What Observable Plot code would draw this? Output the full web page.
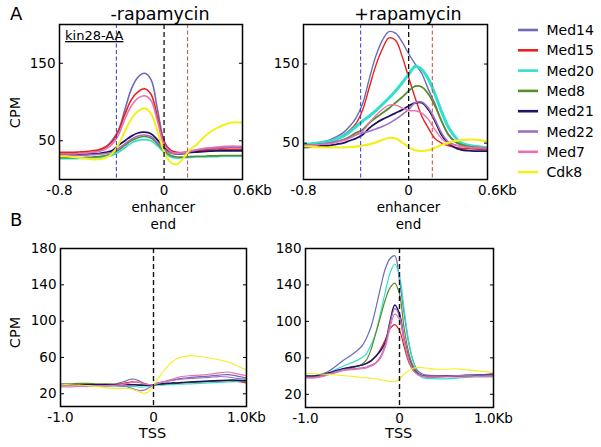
<!DOCTYPE html>
<html><head><meta charset="utf-8">
<script src="https://cdn.jsdelivr.net/npm/d3@7"></script>
<script src="https://cdn.jsdelivr.net/npm/@observablehq/plot@0.6"></script>
<style>
body{margin:0;background:#fff;}
#fig{position:relative;width:601px;height:447px;overflow:hidden;font-family:"DejaVu Sans";background:#fff;}
#fig > div, #fig > svg{position:absolute;}
</style></head><body><div id="fig"></div>
<script>
// ---------- data ----------
const seriesNames = ["Med14","Med15","Med20","Med8","Med21","Med22","Med7","Cdk8"];
const seriesColors = ["#6b6bb8","#e8211d","#30dfcd","#5b8b2c","#1b1563","#a26fbf","#e872b0","#f3ef1f"];

const xA = [-0.8,-0.75,-0.7,-0.65,-0.6,-0.55,-0.5,-0.45,-0.4,-0.35,-0.3,-0.25,-0.2,-0.15,-0.1,-0.05,0,0.05,0.1,0.15,0.2,0.25,0.3,0.35,0.4,0.45,0.5,0.55,0.6];
const xB = [-1,-0.9,-0.8,-0.7,-0.6,-0.5,-0.4,-0.35,-0.3,-0.25,-0.2,-0.15,-0.1,-0.05,0,0.05,0.1,0.15,0.2,0.25,0.3,0.4,0.5,0.6,0.7,0.8,0.9,1];

const xTicksA = [-0.8, 0, 0.6];
const xTickLabelsA = ["-0.8", "0", "0.6Kb"];
const xTicksB = [-1, 0, 1];
const xTickLabelsB = ["-1.0", "0", "1.0Kb"];
const yTicksA = [50, 150];
const yTicksB = [20, 60, 100, 140, 180];
const enhancerMarks = [-0.365, 0, 0.18];
const tssMarks = [0];

// enhancer end, -rapamycin (rows in seriesNames order)
const enhMinus = [
  [33,33,33,33.5,34,35,37,41,50,63,90,117,132,137,129,90,50,37,33,34,36,37,38,39,40,40.5,41,41,41],
  [35,35,35,35.5,36,37,38.5,42,48,62,84,103,113,117,110,80,48,38,35,35,36,37,37.5,38,38,38.5,38.5,38.5,38.5],
  [27,27,27,27,27.5,28,28.5,29.5,31,35,41,47,50.5,51.5,50,43,35,29,27.5,28,28.5,29,29,29.5,29.5,30,30,30,30],
  [28,28,28,28,28.5,29,29.5,31,33,37.5,44,50,54,55.5,53.5,46,37,31,29,29,29.5,30,30,30.5,30.5,31,31,31,31],
  [32,32,32,32,32.5,33,33.5,35,37,44,50,56,60,61,59,51,41,35,33,33.5,35,35.5,36,36.5,37,37,37,37,37],
  [31,31,31,31,31.5,32,32.5,33.5,35,40,46,52,56,57.5,55.5,48,39,34,33,34,36,38,39.5,40.5,41,41.5,42,42,42],
  [33,33,33,33.5,34,35,36,39,45,57,78,95,105,108,102,75,45,36,34,35,37,38.5,40,41,42,42.5,43,43,43],
  [30,30,29,28,27,26,26,28,33,45,62,78,88,92,85,62,36,22,20,28,39,45,54,61,66,70,73,74,73]
];
// enhancer end, +rapamycin
const enhPlus = [
  [47,48,50,52,54,58,63,71,82,100,131,160,180,191,189,178,163,150,138,118,100,78,62,53,48,46,44,43,43],
  [48,49,50,51,52,55,60,66,75,92,120,148,169,183,180,160,133,107,84,69,56,50,47,45,43.5,43,42.5,42,41.5],
  [48,49,50,51,52,55,58.5,64,71,78,84,91,99,107,116,126,137,147,143,131,112,90,71,58.5,50,47.5,46,45,44],
  [47,47.5,48,49,50,52,54,58,63,67,75.5,82,88,94,101,108,116,122,121,112,97,78,61,52,48,46,45,44,44],
  [44.5,45,46,46.5,47,48.5,50,53,56,60.5,69,75,80,84,88,92,97,101,101,92.5,78,60.5,50,44.5,41.5,40.5,40,40,40],
  [47,47.5,48,49,50,52,54,57,60.5,63,65,68,71,75,80,86,92.5,101,102,94.5,80,63,52,48,46,45,44,43.5,43],
  [46,47,48,48.5,49,51,53,56,60.5,65,75.5,85,92.5,98,98,94.5,91,91,88,80,67,56,50,47.5,46,45,44.5,44,44],
  [46,45.5,45,44.5,44.5,44.5,44.5,45,45.5,47,48.5,51,54,56.5,56,51,45,41,40,41,44,47.5,50.5,52.5,54,54.5,54.5,53.5,52]
];
// TSS, -rapamycin
const tssMinus = [
  [30,30,30,30,30,30,31,32.5,34,36,36,34,31.5,29.5,30,32,33,34,35,36,37,38,39,39.5,40.5,41,39.5,37.5],
  [29.5,29.5,29.5,29.5,29.5,30,30.5,31,32,33,33,32.5,31,30,30,30.5,30.5,31,31,31.5,32,32.5,33,33.5,34,34.5,33.5,32],
  [29,29,29,29,28.5,28.5,28.5,28,28,28,28,27.5,27.5,28,29,29.5,29.5,30,30,30.5,30.5,31,31.5,32,32.5,33,33.5,34],
  [31,31,31.5,31.5,31,31,30.5,30.5,30.5,30,30,30,29.5,29.5,30,30.5,31,31,31.5,32,32,33,33.5,34,34.5,34.5,34.5,34],
  [30,30,30,30,30,30,30,30,30,30,30,29.5,29.5,29.5,30,30.5,31,31.5,32,32,32.5,33,33.5,34,34.5,35,35,34.5],
  [29,29,29,29,29,29,29,28.5,28,26.5,25,23.5,24,26.5,30,32,33,34,35,35.5,36,37,37.5,38,39,38.5,37,36],
  [27.5,27.5,28,28,28.5,29,29.5,30,31,32,33,32.5,31,30,30,31.5,33,34.5,36,37.5,39,40,40.5,41.5,43,44,42,40],
  [30,30,29.5,29,28,26.5,26,26,26,25.5,24,22,20.5,22.5,29,37,44,50,55,58.5,60.5,62,61,59.5,57.5,55,51,46]
];
// TSS, +rapamycin
const tssPlus = [
  [40,40.5,43,49,57,64,73,82,95,115,138,158,169,172,145,108,75,55,45,42,41,40.5,40.5,40.5,41,41,41.5,42],
  [39,39,41,44,48,50,52,54,57,62,70,80,92,96.5,90,72,55,46,42,40.5,40,40,40,40,40,40,40,40],
  [40,40,42,46,51,55,60,65,75,88,110,133,153,163,150,113,77,55,42,38,37.5,37,37,37.5,38.5,39.5,40,40.5],
  [40,40,42,44,47,49,53,58,70,88,106,124,137,142,130,92,65,50,43,40,39,39,39.5,40,40.5,41,41.5,42],
  [40,40,42,45,48,50,52,54,57,62,68,77,100,118,108,80,59,47,42,40,39.5,39.5,40,40,40.5,41,41.5,42],
  [39,39,41,44,47,48,49,50,52,55,62,75,98,114,106,80,58,46,42,40,40,40,40,40.5,40.5,41,41,41],
  [38,38,40,43,46,47,48,49,51,54,60,72,93,108,102,78,57,46,41,39.5,39,39,39,39,39,39,39,39],
  [43,42.5,42,41.5,40.5,39.5,38.5,38,37.5,37,36,35,34,34,37,42,46,48.5,49.5,49,48.5,47.5,47.5,48,47,46,45,44]
];

// ---------- drawing ----------
const FONT = "DejaVu Sans";
const fig = document.getElementById("fig");

function makePanel(cfg) {
  const marks = [];
  cfg.rows.forEach((vals, i) => {
    const data = cfg.x.map((xv, j) => ({x: xv, y: vals[j]}));
    marks.push(Plot.line(data, {x: "x", y: "y", stroke: seriesColors[i], strokeWidth: cfg.widths[i], curve: "catmull-rom", clip: true}));
  });
  cfg.rules.forEach((v, k) => {
    const st = cfg.ruleStyles[k];
    marks.push(Plot.ruleX([v], {stroke: st.stroke, strokeWidth: st.w, strokeDasharray: st.dash}));
  });
  marks.push(Plot.frame({stroke: "black", strokeWidth: 1.5}));
  marks.push(Plot.axisY({ticks: cfg.yTicks, anchor: "left", tickSize: 4, insetLeft: 4, fill: "none", label: null}));
  marks.push(Plot.axisY({ticks: cfg.yTicks, anchor: "right", tickSize: 4, insetRight: 4, fill: "none", label: null}));
  marks.push(Plot.axisY({ticks: cfg.yTicks, anchor: "left", tickSize: 0, tickPadding: 4, fontSize: 13.5, label: null, fill: "black"}));
  const fmt = d => cfg.xLabels[cfg.xTicks.indexOf(d)];
  marks.push(Plot.axisX({ticks: cfg.xTicks.slice(0, 2), tickSize: 0, tickPadding: 6, fontSize: 13.5, tickFormat: fmt, label: null, fill: "black"}));
  marks.push(Plot.axisX({ticks: cfg.xTicks.slice(2), tickSize: 0, tickPadding: 6, fontSize: 13.5, tickFormat: fmt, label: null, fill: "black", dx: cfg.lastDx}));
  const p = Plot.plot({
    width: cfg.width, height: cfg.height,
    marginLeft: cfg.m[0], marginRight: cfg.m[1], marginTop: cfg.m[2], marginBottom: cfg.m[3],
    x: {domain: cfg.xDomain},
    y: {domain: cfg.yDomain},
    style: {background: "transparent", fontFamily: FONT, fontSize: "13.5px", color: "black", overflow: "visible"},
    marks
  });
  const div = document.createElement("div");
  div.style.left = cfg.left + "px";
  div.style.top = cfg.top + "px";
  div.style.width = cfg.width + "px";
  div.appendChild(p);
  fig.appendChild(div);
}

const ruleStylesA = [
  {stroke: "#3535c8", w: 1, dash: "4,2.5"},
  {stroke: "#111", w: 1.3, dash: "5,3"},
  {stroke: "#c84848", w: 1, dash: "4,2.5"}
];
const ruleStylesB = [{stroke: "#111", w: 1.4, dash: "5,3"}];

makePanel({rows: enhMinus, x: xA, xDomain: [-0.8, 0.6], yDomain: [0, 200], yTicks: yTicksA,
  xTicks: xTicksA, xLabels: xTickLabelsA, lastDx: 10, rules: enhancerMarks, ruleStyles: ruleStylesA,
  widths: [1.6,1.6,1.6,1.6,1.8,1.6,1.6,2.0],
  left: 0, top: 0, width: 275, height: 215, m: [59, 33, 24, 36]});
makePanel({rows: enhPlus, x: xA, xDomain: [-0.8, 0.6], yDomain: [4, 200], yTicks: yTicksA,
  xTicks: xTicksA, xLabels: xTickLabelsA, lastDx: 10, rules: enhancerMarks, ruleStyles: ruleStylesA,
  widths: [1.4,1.4,3,1.8,1.8,1.6,1.4,2.2],
  left: 250, top: 0, width: 280, height: 215, m: [53, 43, 24, 36]});
makePanel({rows: tssMinus, x: xB, xDomain: [-1, 1], yDomain: [6, 180], yTicks: yTicksB,
  xTicks: xTicksB, xLabels: xTickLabelsB, lastDx: 0, rules: tssMarks, ruleStyles: ruleStylesB,
  widths: [1.2,1.2,1.2,1.2,1.5,1.2,1.2,1.1],
  left: 0, top: 230, width: 275, height: 200, m: [60, 29, 18, 24]});
makePanel({rows: tssPlus, x: xB, xDomain: [-1, 1], yDomain: [5.5, 180], yTicks: yTicksB,
  xTicks: xTicksB, xLabels: xTickLabelsB, lastDx: 0, rules: tssMarks, ruleStyles: ruleStylesB,
  widths: [1.2,1.2,1.2,1.2,1.5,1.2,1.2,1.1],
  left: 250, top: 230, width: 280, height: 200, m: [55, 37, 18, 23]});

// ---------- overlay texts & legend ----------
const svg = d3.select(fig).append("svg")
  .attr("width", 601).attr("height", 447)
  .style("left", "0px").style("top", "0px")
  .attr("font-family", FONT).attr("fill", "black");

function txt(s, x, y, size, anchor = "start", rot = 0) {
  const t = svg.append("text").attr("x", x).attr("y", y).attr("font-size", size)
    .attr("text-anchor", anchor).text(s);
  if (rot) t.attr("transform", `rotate(${rot},${x},${y})`);
  return t;
}
txt("A", 10, 19.5, 18);
txt("B", 10, 226, 18);
txt("-rapamycin", 160, 19.5, 17.5, "middle");
txt("+rapamycin", 408, 19.5, 17.5, "middle");
txt("kin28-AA", 65, 40, 13).attr("text-decoration", "underline");
txt("CPM", 19.5, 112.5, 14.5, "middle", -90);
txt("CPM", 19.5, 332.5, 14.5, "middle", -90);
txt("enhancer", 163.3, 212, 13.5, "middle");
txt("end", 163.3, 228.5, 13.5, "middle");
txt("enhancer", 408.5, 212, 13.5, "middle");
txt("end", 408.5, 228.5, 13.5, "middle");
txt("TSS", 152.5, 438.3, 14.5, "middle");
txt("TSS", 398.7, 438.3, 14.5, "middle");

const lg = svg.append("g");
seriesNames.forEach((name, i) => {
  const cy = 30 + i * 20.3;
  lg.append("line").attr("x1", 518).attr("x2", 538).attr("y1", cy).attr("y2", cy)
    .attr("stroke", seriesColors[i]).attr("stroke-width", 2.6);
  lg.append("text").attr("x", 546.5).attr("y", cy + 5).attr("font-size", 14).text(name);
});
</script>
</body></html>
